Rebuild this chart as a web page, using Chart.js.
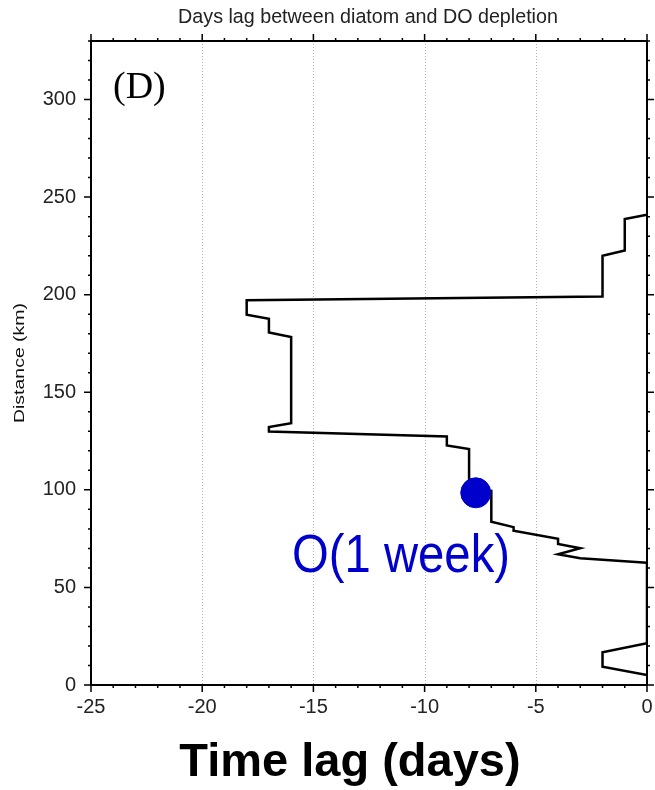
<!DOCTYPE html>
<html>
<head>
<meta charset="utf-8">
<script src="https://cdn.jsdelivr.net/npm/chart.js@4.4.1/dist/chart.umd.min.js"></script>
<style>
  html, body { margin: 0; padding: 0; background: #fff; }
  #wrap { width: 655px; height: 790px; }
</style>
</head>
<body>
<div id="wrap"><canvas id="lagChart" width="655" height="790"></canvas></div>
<script>
// lag profile (days, km)
const lagDays = [0, -1, -1, -2, -2, -18, -18, -17, -17, -16, -16, -17, -17, -9, -9, -8, -8, -7, -7, -6, -6, -4, -4, -3, -4, -3, 0, 0, -2, -2, 0];
const distanceKm = [241, 238.8, 222.6, 220, 199.1, 197.1, 189.7, 187.7, 180.7, 178.3, 134.2, 132.2, 129.9, 127.3, 122.7, 120.9, 101, 99.5, 83.7, 80.9, 79.1, 74.9, 72.3, 70.1, 67.0, 65.0, 62.7, 21.4, 16.8, 9.4, 5.1];

// the blue marker
const markerLag = [-7.7];
const markerDist = [98.5];

const xTicks = [-25, -20, -15, -10, -5, 0];
const yTicks = [0, 50, 100, 150, 200, 250, 300];

const BLUE = '#0000cc';

// draw text squeezed/stretched to a given width
function stretchedText(ctx, text, x, y, font, targetW, angle) {
  ctx.save();
  ctx.font = font;
  const w = ctx.measureText(text).width;
  ctx.translate(x, y);
  if (angle) ctx.rotate(angle);
  ctx.scale(targetW / w, 1);
  ctx.fillText(text, 0, 0);
  ctx.restore();
}

const frame = {
  id: 'frame',
  beforeDatasetsDraw(chart) {
    const { ctx, chartArea: a, scales: { x } } = chart;
    ctx.save();
    ctx.strokeStyle = '#b5b5b5';
    ctx.lineWidth = 1;
    ctx.setLineDash([1, 2]);
    xTicks.slice(1, -1).forEach(v => {
      const px = Math.round(x.getPixelForValue(v)) + 0.5;
      ctx.beginPath();
      ctx.moveTo(px, a.top);
      ctx.lineTo(px, a.bottom);
      ctx.stroke();
    });
    ctx.restore();
  },
  afterDatasetsDraw(chart) {
    const { ctx, chartArea: a, scales: { x, y } } = chart;
    ctx.save();
    ctx.strokeStyle = '#000';
    ctx.lineWidth = 1.5;
    // minor + major ticks, outward on all four sides
    for (let v = -25; v <= 0; v++) {
      const px = x.getPixelForValue(v);
      const len = v % 5 === 0 ? 7 : 3;
      ctx.beginPath();
      ctx.moveTo(px, a.bottom); ctx.lineTo(px, a.bottom + len);
      ctx.moveTo(px, a.top); ctx.lineTo(px, a.top - len);
      ctx.stroke();
    }
    for (let v = 0; v <= 330; v += 10) {
      const py = y.getPixelForValue(v);
      const len = v % 50 === 0 ? 7 : 3;
      ctx.beginPath();
      ctx.moveTo(a.left, py); ctx.lineTo(a.left - len, py);
      ctx.moveTo(a.right, py); ctx.lineTo(a.right + len, py);
      ctx.stroke();
    }
    ctx.lineWidth = 2;
    ctx.strokeRect(a.left, a.top, a.right - a.left, a.bottom - a.top);
    ctx.restore();
  },
  afterDraw(chart) {
    const { ctx, chartArea: a } = chart;
    ctx.save();
    // title
    ctx.fillStyle = '#222';
    ctx.textAlign = 'center';
    ctx.textBaseline = 'middle';
    ctx.font = '19.7px "Liberation Sans", Arial, sans-serif';
    ctx.fillText('Days lag between diatom and DO depletion', 368, 18);

    // y title (narrow, tall lettering)
    ctx.fillStyle = '#111';
    stretchedText(ctx, 'Distance (km)', 20, (a.top + a.bottom) / 2,
      '15px "Liberation Sans", Arial, sans-serif', 120, -Math.PI / 2);

    // x title
    ctx.fillStyle = '#000';
    ctx.textBaseline = 'alphabetic';
    ctx.font = 'bold 47px "Liberation Sans", Arial, sans-serif';
    ctx.fillText('Time lag (days)', 350, 776);

    // panel letter
    ctx.textAlign = 'left';
    ctx.font = '38px "Liberation Serif", "Times New Roman", serif';
    ctx.fillText('(D)', 113, 98);

    // annotation
    ctx.fillStyle = BLUE;
    ctx.textAlign = 'center';
    stretchedText(ctx, 'O(1 week)', 401, 572,
      '54px "Liberation Sans", Arial, sans-serif', 218, 0);
    ctx.restore();
  }
};

new Chart(document.getElementById('lagChart'), {
  type: 'scatter',
  data: {
    datasets: [
      {
        data: markerLag.map((v, i) => ({ x: v, y: markerDist[i] })),
        backgroundColor: BLUE,
        borderColor: BLUE,
        pointRadius: 15,
        showLine: false
      },
      {
        data: lagDays.map((v, i) => ({ x: v, y: distanceKm[i] })),
        showLine: true,
        borderColor: '#000',
        borderWidth: 2.5,
        pointRadius: 0,
        fill: false,
        tension: 0
      }
    ]
  },
  options: {
    responsive: false,
    animation: false,
    // big marker radius would otherwise pad the plot area
    layout: { autoPadding: false, padding: { top: 41, right: 8, left: 0, bottom: 0 } },
    plugins: {
      legend: { display: false },
      tooltip: { enabled: false }
    },
    scales: {
      x: {
        type: 'linear',
        min: -25,
        max: 0,
        afterFit(scale) {
          scale.height = 105;
          scale.paddingLeft = 0;
          scale.paddingRight = 0;
        },
        grid: { display: false, drawTicks: false },
        border: { display: false },
        ticks: {
          stepSize: 5,
          includeBounds: false,
          padding: 10,
          color: '#222',
          font: { family: '"Liberation Sans", Arial, sans-serif', size: 20 }
        }
      },
      y: {
        type: 'linear',
        min: 0,
        max: 330,
        afterFit(scale) { scale.width = 91; },
        grid: { display: false, drawTicks: false },
        border: { display: false },
        ticks: {
          stepSize: 50,
          includeBounds: false,
          padding: 15,
          color: '#222',
          font: { family: '"Liberation Sans", Arial, sans-serif', size: 20 }
        }
      }
    }
  },
  plugins: [frame]
});
</script>
</body>
</html>
